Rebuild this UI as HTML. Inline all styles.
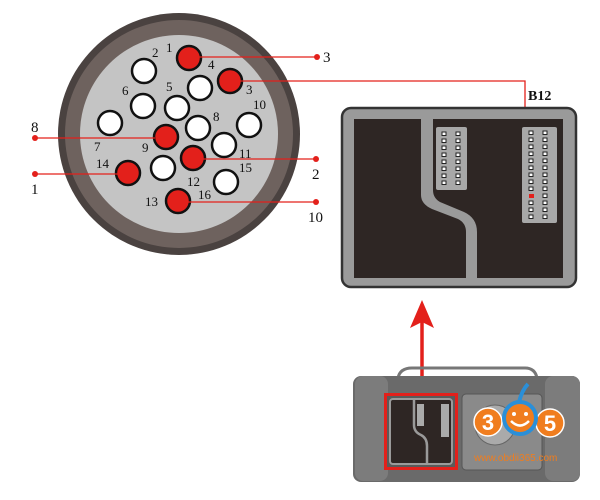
<!DOCTYPE html>
<html><head><meta charset="utf-8"><style>html,body{margin:0;padding:0;background:#fff}svg{display:block}</style></head><body>
<svg width="600" height="500" viewBox="0 0 600 500" xmlns="http://www.w3.org/2000/svg" font-family="Liberation Serif, serif">
<rect width="600" height="500" fill="#fff"/>
<!-- connector circle -->
<circle cx="179" cy="134" r="121" fill="#4a4240"/>
<circle cx="179" cy="134" r="114" fill="#6e625e"/>
<circle cx="179" cy="134" r="99" fill="#c4c4c4"/>
<g stroke="#111" stroke-width="2.5">
<circle cx="144" cy="71" r="12" fill="#fff"/>
<circle cx="200" cy="88" r="12" fill="#fff"/>
<circle cx="143" cy="106" r="12" fill="#fff"/>
<circle cx="177" cy="108" r="12" fill="#fff"/>
<circle cx="110" cy="123" r="12" fill="#fff"/>
<circle cx="198" cy="128" r="12" fill="#fff"/>
<circle cx="249" cy="125" r="12" fill="#fff"/>
<circle cx="224" cy="145" r="12" fill="#fff"/>
<circle cx="163" cy="168" r="12" fill="#fff"/>
<circle cx="226" cy="182" r="12" fill="#fff"/>
<circle cx="189" cy="58" r="12" fill="#e3201b"/>
<circle cx="230" cy="81" r="12" fill="#e3201b"/>
<circle cx="166" cy="137" r="12" fill="#e3201b"/>
<circle cx="193" cy="158" r="12" fill="#e3201b"/>
<circle cx="128" cy="173" r="12" fill="#e3201b"/>
<circle cx="178" cy="201" r="12" fill="#e3201b"/>
</g>
<g font-size="13" fill="#111">
<text x="166" y="52">1</text><text x="152" y="57">2</text><text x="208" y="69">4</text>
<text x="246" y="94">3</text><text x="122" y="95">6</text><text x="166" y="91">5</text>
<text x="253" y="109">10</text><text x="213" y="121">8</text><text x="94" y="151">7</text>
<text x="142" y="152">9</text><text x="239" y="158">11</text><text x="96" y="168">14</text>
<text x="239" y="172">15</text><text x="187" y="186">12</text><text x="198" y="199">16</text>
<text x="145" y="206">13</text>
</g>
<!-- red leader lines -->
<g stroke="#e3201b" stroke-width="1.3" fill="none">
<line x1="198" y1="57" x2="317" y2="57"/>
<polyline points="240,81 525,81 525,195 533,195"/>
<line x1="155" y1="138" x2="35" y2="138"/>
<line x1="118" y1="174" x2="35" y2="174"/>
<line x1="203" y1="159" x2="316" y2="159"/>
<line x1="188" y1="202" x2="316" y2="202"/>
</g>
<g fill="#e3201b">
<circle cx="317" cy="57" r="3"/><circle cx="35" cy="138" r="3"/><circle cx="35" cy="174" r="3"/>
<circle cx="316" cy="159" r="3"/><circle cx="316" cy="202" r="3"/>
</g>
<g font-size="15" fill="#111">
<text x="323" y="62">3</text><text x="31" y="132">8</text><text x="31" y="194">1</text>
<text x="312" y="179">2</text><text x="308" y="222">10</text>
<text x="528" y="100" font-weight="bold" font-size="14">B12</text>
</g>
<!-- connector plate -->
<rect x="342" y="108" width="234" height="179" rx="9" fill="#9a9a9a" stroke="#333" stroke-width="2.5"/>
<path d="M354,119 H421 V195 Q421,204 432,209 L458,219 Q466,223 466,232 V278 H354 Z" fill="#2e2624"/>
<path d="M433,119 H563 V278 H477 V232 Q477,218 464,212 L440,202 Q433,198 433,190 Z" fill="#2e2624"/>
<rect x="436" y="127" width="31" height="63" rx="2" fill="#a8a8a8"/>
<rect x="522" y="127" width="35" height="96" rx="2" fill="#a8a8a8"/>
<g fill="#fff" stroke="#222" stroke-width="1">
<g id="c8">
<rect x="442" y="132" width="4" height="3.5"/><rect x="442" y="139" width="4" height="3.5"/><rect x="442" y="146" width="4" height="3.5"/><rect x="442" y="153" width="4" height="3.5"/><rect x="442" y="160" width="4" height="3.5"/><rect x="442" y="167" width="4" height="3.5"/><rect x="442" y="174" width="4" height="3.5"/><rect x="442" y="181" width="4" height="3.5"/>
</g>
<use href="#c8" x="14"/>
<g id="c13">
<rect x="529" y="131" width="4" height="3.5"/><rect x="529" y="138" width="4" height="3.5"/><rect x="529" y="145" width="4" height="3.5"/><rect x="529" y="152" width="4" height="3.5"/><rect x="529" y="159" width="4" height="3.5"/><rect x="529" y="166" width="4" height="3.5"/><rect x="529" y="173" width="4" height="3.5"/><rect x="529" y="180" width="4" height="3.5"/><rect x="529" y="187" width="4" height="3.5"/><rect x="529" y="201" width="4" height="3.5"/><rect x="529" y="208" width="4" height="3.5"/><rect x="529" y="215" width="4" height="3.5"/>
</g>
<use href="#c13" x="14"/><rect x="543" y="194" width="4" height="3.5"/>
</g>
<rect x="529" y="194" width="5" height="4" fill="#e3201b"/>
<!-- arrow -->
<line x1="422" y1="322" x2="422" y2="391" stroke="#e3201b" stroke-width="3.5"/>
<path d="M422,300 L434,328 L422,322 L410,328 Z" fill="#e3201b"/>
<!-- device -->
<path d="M398,378 Q400,368 412,368 L525,368 Q535,368 537,378" fill="none" stroke="#777" stroke-width="3"/>
<rect x="353" y="376" width="227" height="106" rx="8" fill="#6a6a6a"/>
<rect x="355" y="376" width="33" height="105" rx="8" fill="#7c7c7c"/>
<rect x="545" y="376" width="35" height="105" rx="8" fill="#7c7c7c"/>
<rect x="384" y="393" width="74" height="77" fill="#e3201b"/>
<rect x="387" y="396" width="68" height="71" fill="#5a5a5a"/>
<rect x="390" y="399" width="62" height="65" rx="3" fill="#2e2624" stroke="#9a9a9a" stroke-width="2"/>
<path d="M414,399 V425 Q414,432 421,435 Q427,438 427,446 V464" fill="none" stroke="#9a9a9a" stroke-width="2.5"/>
<rect x="417" y="404" width="7" height="22" fill="#aaa"/>
<rect x="441" y="404" width="8" height="33" fill="#aaa"/>
<rect x="462" y="394" width="80" height="76" rx="4" fill="#8a8a8a" stroke="#555"/>
<circle cx="495" cy="425" r="20" fill="#aaa" stroke="#666"/>
<!-- logo -->
<circle cx="488" cy="422" r="14" fill="#f07d1e" stroke="#fff" stroke-width="1.5"/>
<circle cx="550" cy="423" r="14" fill="#f07d1e" stroke="#fff" stroke-width="1.5"/>
<circle cx="520" cy="418" r="16" fill="#f07d1e" stroke="#2a8fd8" stroke-width="4"/>
<path d="M519,402 Q522,390 528,384" stroke="#2a8fd8" stroke-width="4" fill="none"/>
<text x="488" y="430" font-family="Liberation Sans, sans-serif" font-weight="bold" font-size="22" fill="#fff" text-anchor="middle">3</text>
<text x="550" y="431" font-family="Liberation Sans, sans-serif" font-weight="bold" font-size="22" fill="#fff" text-anchor="middle">5</text>
<circle cx="514" cy="414" r="2" fill="#fff"/><circle cx="526" cy="414" r="2" fill="#fff"/>
<path d="M511,421 Q520,430 529,421" stroke="#fff" stroke-width="2.5" fill="none"/>
<text x="474" y="461" font-family="Liberation Sans, sans-serif" font-size="10" fill="#f07d1e">www.obdii365.com</text>
</svg>
</body></html>
